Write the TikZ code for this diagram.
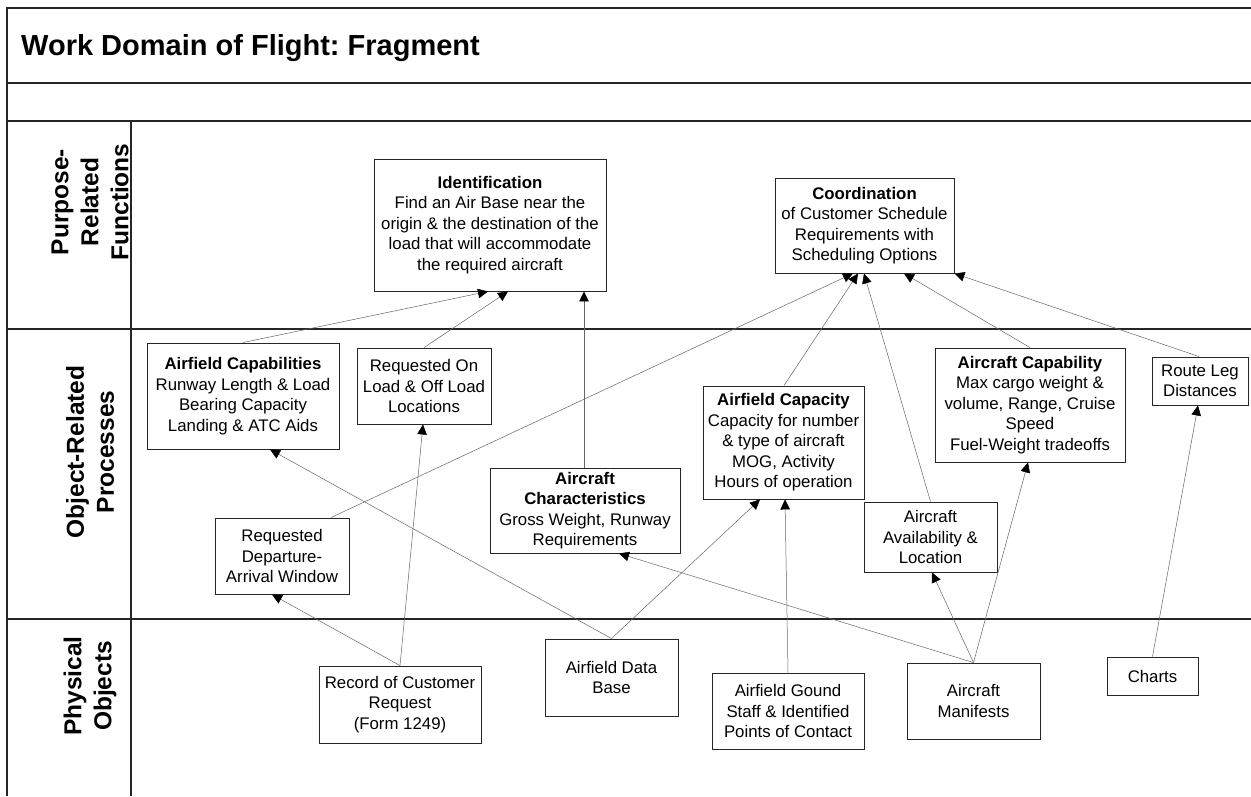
\documentclass[tikz,border=0pt]{standalone}
\usepackage{fontspec}
\setmainfont{Liberation Sans}
\usetikzlibrary{arrows.meta}
\frenchspacing
\begin{document}
\begin{tikzpicture}[x=1pt,y=-1pt,
  frame/.style={line width=1.3pt, draw=black!85},
  box/.style={draw=black!85, line width=0.9pt, fill=white, align=center, inner sep=0pt,
              font=\fontsize{16.8}{20.5}\selectfont},
  link/.style={draw=black!60, line width=0.5pt,
               -{Triangle[length=10pt,width=9.5pt,color=black]}},
  rowlabel/.style={rotate=90, align=center, inner sep=0pt,
                   font=\fontsize{24.5}{30}\selectfont\bfseries},
  titletext/.style={anchor=base west, inner sep=0pt, font=\fontsize{29}{34}\selectfont\bfseries}
]
\useasboundingbox (0,0) rectangle (1251,796);
\fill[white] (0,0) rectangle (1251,796);

% frame
\draw[frame] (7,796) -- (7,8) -- (1251,8);
\draw[frame] (7,83) -- (1251,83);
\draw[frame] (7,121) -- (1251,121);
\draw[frame] (7,329) -- (1251,329);
\draw[frame] (7,619) -- (1251,619);
\draw[frame] (131,121) -- (131,796);

% title and row labels
\node[titletext] (title) at (21,55) {Work Domain of Flight: Fragment};
\node[rowlabel] (row1) at (90,202) {Purpose-\\Related\\Functions};
\node[rowlabel] (row2) at (90,452) {Object-Related\\Processes};
\node[rowlabel] (row3) at (90,686) {Physical\\Objects};

% purpose-related functions
\node[box, minimum width=232pt, minimum height=132pt] (iden) at (490,225)
  {\textbf{Identification}\\Find an Air Base near the\\origin \& the destination of the\\load that will accommodate\\the required aircraft};
\node[box, minimum width=179pt, minimum height=95pt] (coord) at (864.5,225.5)
  {\textbf{Coordination}\\of Customer Schedule\\Requirements with\\Scheduling Options};

% object-related processes
\node[box, minimum width=192pt, minimum height=106pt] (acap) at (243,396)
  {\textbf{Airfield Capabilities}\\Runway Length \& Load\\Bearing Capacity\\Landing \& ATC Aids};
\node[box, minimum width=134pt, minimum height=76pt] (reqon) at (424,386)
  {Requested On\\Load \& Off Load\\Locations};
\node[box, minimum width=134pt, minimum height=76pt] (reqdep) at (282,556)
  {Requested\\Departure-\\Arrival Window};
\node[box, minimum width=190pt, minimum height=85pt] (achar) at (585,510.5)
  {\textbf{Aircraft}\\\textbf{Characteristics}\\Gross Weight, Runway\\Requirements};
\node[box, minimum width=161pt, minimum height=113pt] (afcap) at (783.5,442.5)
  {\textbf{Airfield Capacity}\\Capacity for number\\\& type of aircraft\\MOG, Activity\\Hours of operation};
\node[box, minimum width=133pt, minimum height=70pt] (avail) at (930.5,537)
  {Aircraft\\Availability \&\\Location};
\node[box, minimum width=190pt, minimum height=114pt] (accap) at (1030,405)
  {\textbf{Aircraft Capability}\\Max cargo weight \&\\volume, Range, Cruise\\Speed\\Fuel-Weight tradeoffs};
\node[box, minimum width=96pt, minimum height=48pt] (route) at (1200,381)
  {Route Leg\\Distances};

% physical objects
\node[box, minimum width=162pt, minimum height=77pt] (rec) at (400,704.5)
  {Record of Customer\\Request\\(Form 1249)};
\node[box, minimum width=133pt, minimum height=77pt] (adb) at (611.5,677.5)
  {Airfield Data\\Base};
\node[box, minimum width=152pt, minimum height=76pt] (staff) at (788,711)
  {Airfield Gound\\Staff \& Identified\\Points of Contact};
\node[box, minimum width=133pt, minimum height=76pt] (manif) at (973.5,701)
  {Aircraft\\Manifests};
\node[box, minimum width=91pt, minimum height=38pt] (charts) at (1152.5,676)
  {Charts};

% connectors to Identification
\draw[link] (acap.north) -- ([xshift=-2pt]iden.south);
\draw[link] (reqon.north) -- ([xshift=18pt]iden.south);
\draw[link] ([xshift=-1pt]achar.north) -- ([xshift=94pt]iden.south);

% connectors to Coordination
\draw[link] ([xshift=49pt]reqdep.north) -- ([xshift=-11.5pt]coord.south);
\draw[link] ([xshift=0.5pt]afcap.north) -- ([xshift=-6.5pt]coord.south);
\draw[link] (avail.north) -- ([xshift=-0.5pt]coord.south);
\draw[link] (accap.north) -- ([xshift=39.5pt]coord.south);
\draw[link] ([xshift=-1pt]route.north) -- (coord.south east);

% connectors from physical objects
\draw[link] (rec.north) -- ([xshift=-10pt]reqdep.south);
\draw[link] (rec.north) -- ([xshift=-1pt]reqon.south);
\draw[link] (adb.north) -- ([xshift=27pt]acap.south);
\draw[link] (adb.north) -- ([xshift=-23.5pt]afcap.south);
\draw[link] (staff.north) -- ([xshift=1.5pt]afcap.south);
\draw[link] (manif.north) -- ([xshift=34pt]achar.south);
\draw[link] (manif.north) -- ([xshift=1.5pt]avail.south);
\draw[link] (manif.north) -- ([xshift=-2pt]accap.south);
\draw[link] (charts.north) -- ([xshift=-2pt]route.south);
\end{tikzpicture}
\end{document}
